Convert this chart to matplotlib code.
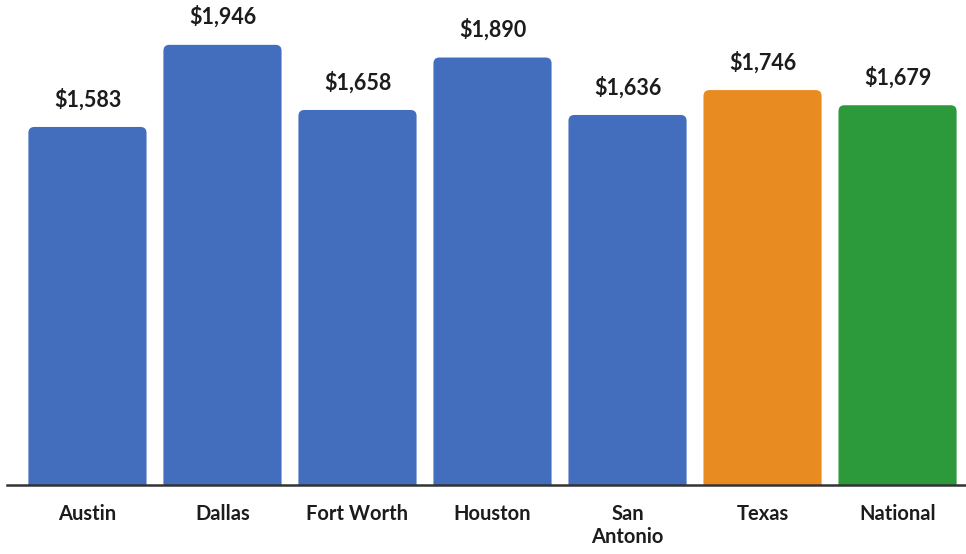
import matplotlib
matplotlib.use("Agg")
import matplotlib.pyplot as plt
from matplotlib.patches import FancyBboxPatch

# --- data ------------------------------------------------------------------
CITIES = ["Austin", "Dallas", "Fort Worth", "Houston", "San\nAntonio", "Texas", "National"]
COSTS = [1583, 1946, 1658, 1890, 1636, 1746, 1679]
BAR_COLORS = ["#436ebe", "#436ebe", "#436ebe", "#436ebe", "#436ebe", "#e88c22", "#2c9a3a"]

INK = "#1c1c1c"
plt.rcParams.update({
    "font.family": ["Lato", "DejaVu Sans"],
    "font.weight": "bold",
})

fig = plt.figure(figsize=(9.66, 5.54), dpi=100)
ax = fig.add_axes([7 / 966, 69 / 554, 959 / 966, 475 / 554])

x = list(range(len(CITIES)))
bars = ax.bar(x, COSTS, width=0.875, color=BAR_COLORS)

ax.set_xlim(-0.596, 6.507)
ax.set_ylim(0, 2100)

# rounded tops: swap each rectangle for a rounded box (bottom hidden below 0)
r_x = 6 / 135
aspect = (6 / 0.2261) / r_x
for b in bars:
    bx, bw, bh = b.get_x(), b.get_width(), b.get_height()
    fb = FancyBboxPatch((bx, -40), bw, bh + 40,
                        boxstyle=f"round,pad=0,rounding_size={r_x}",
                        mutation_aspect=aspect,
                        facecolor=b.get_facecolor(), edgecolor="none")
    ax.add_patch(fb)
    b.remove()

for xi, v in zip(x, COSTS):
    ax.annotate(f"${v:,}", (xi, v), xytext=(0, 12), textcoords="offset points",
                ha="center", va="bottom", fontsize=15.5, color=INK, fontweight="bold")

ax.set_xticks(x, CITIES, fontsize=14.5, color=INK, linespacing=1.15)
ax.tick_params(axis="x", length=0, pad=14)
ax.set_yticks([])
for s in ("top", "right", "left"):
    ax.spines[s].set_visible(False)
ax.spines["bottom"].set_color("#333333")
ax.spines["bottom"].set_linewidth(1.8)
for lbl in ax.get_xticklabels():
    lbl.set_verticalalignment("top")

fig.savefig("out.png", dpi=100, facecolor="white")
